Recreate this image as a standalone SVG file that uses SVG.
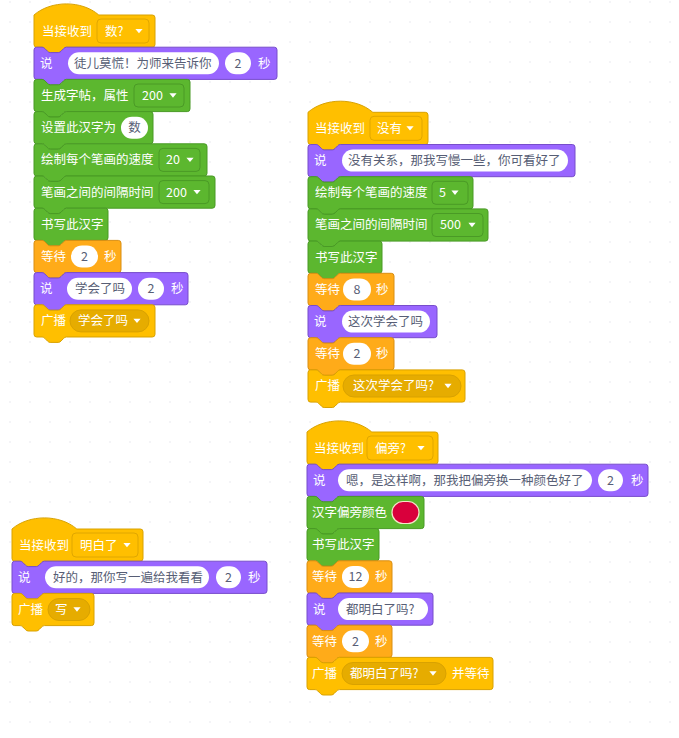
<svg xmlns="http://www.w3.org/2000/svg" xmlns:xlink="http://www.w3.org/1999/xlink" width="679" height="738" viewBox="0 0 679 738">
<defs>
<pattern id="dots" x="0" y="-8" width="20" height="20" patternUnits="userSpaceOnUse"><rect x="9.4" y="9.4" width="1.2" height="1.2" fill="#e0e0e8"/></pattern>
<path id="ar" d="M-3.6,-2.2h7.2l-3.6,4.4z" fill="#fff"/>
</defs>
<style>
.ev{fill:#FFBF00;stroke:#D9A200;stroke-width:1}
.lk{fill:#9966FF;stroke:#774DCB;stroke-width:1}
.ct{fill:#FFAB19;stroke:#D98E12;stroke-width:1}
.gr{fill:#5CB72F;stroke:#499A25;stroke-width:1}
.t{font-family:"Noto Sans CJK SC","Noto Sans",sans-serif;font-size:12.5px;fill:#fff}
.d{fill:#575E75}
.m{text-anchor:middle}
.pill{fill:#fff}
.hdd{fill:#FFBF00;stroke:#E0A700;stroke-width:1}
.bdd{fill:#E6AC00;stroke:#D9A200;stroke-width:1}
.gdd{fill:#5CB72F;stroke:#4A9A26;stroke-width:1}
</style>
<rect width="679" height="738" fill="#fff"/>
<rect width="679" height="738" fill="url(#dots)"/>

<g id="stack1">
<g id="s1-hat" transform="translate(34,15)">
<path class="ev" d="M0,0c16.9,-14.8 47.9,-14.8 64.8,0H118.3a2.7,2.7 0 0 1 2.7,2.7V29.5a2.7,2.7 0 0 1 -2.7,2.7H32.4c-1.35,0 -2,0.7 -2.7,1.35l-2.7,2.7c-0.7,0.7 -1.35,1.35 -2.7,1.35h-8.1c-1.35,0 -2,-0.7 -2.7,-1.35l-2.7,-2.7c-0.7,-0.7 -1.35,-1.35 -2.7,-1.35H2.7a2.7,2.7 0 0 1 -2.7,-2.7Z"/>
<text class="t" x="8" y="20.6">当接收到</text>
<rect class="hdd" x="63" y="4" width="52" height="24" rx="4"/>
<text class="t" x="71" y="20.6">数?</text>
<use href="#ar" x="105" y="16.1"/>
</g>
<g id="s1-b1" transform="translate(34,47.2)">
<path class="lk" d="M0,2.7A2.7,2.7 0 0 1 2.7,0H8.1c1.35,0 2,0.7 2.7,1.35l2.7,2.7c0.7,0.7 1.350,1.35 2.7,1.35h8.1c1.35,0 2,-0.7 2.7,-1.35l2.7,-2.7c0.7,-0.7 1.35,-1.35 2.7,-1.35H240.3a2.7,2.7 0 0 1 2.7,2.7V29.5a2.7,2.7 0 0 1 -2.7,2.7H32.4c-1.35,0 -2,0.7 -2.7,1.35l-2.7,2.7c-0.7,0.7 -1.35,1.35 -2.7,1.35h-8.1c-1.35,0 -2,-0.7 -2.7,-1.35l-2.7,-2.7c-0.7,-0.7 -1.35,-1.35 -2.7,-1.35H2.7a2.7,2.7 0 0 1 -2.7,-2.7Z"/>
<text class="t" x="6" y="20.6">说</text>
<rect class="pill" x="34" y="5.1" width="151" height="22" rx="11"/>
<text class="t d" x="40" y="20.6">徒儿莫慌！为师来告诉你</text>
<rect class="pill" x="191" y="5.1" width="26" height="22" rx="11"/>
<text class="t d m" x="204" y="20.6">2</text>
<text class="t" x="224" y="20.6">秒</text>
</g>
<g id="s1-b2" transform="translate(34,79.4)">
<path class="gr" d="M0,2.7A2.7,2.7 0 0 1 2.7,0H8.1c1.35,0 2,0.7 2.7,1.35l2.7,2.7c0.7,0.7 1.35,1.35 2.7,1.35h8.1c1.35,0 2,-0.7 2.7,-1.35l2.7,-2.7c0.7,-0.7 1.35,-1.35 2.7,-1.35H153.3a2.7,2.7 0 0 1 2.7,2.7V29.5a2.7,2.7 0 0 1 -2.7,2.7H32.4c-1.35,0 -2,0.7 -2.7,1.35l-2.7,2.7c-0.7,0.7 -1.35,1.35 -2.7,1.35h-8.1c-1.35,0 -2,-0.7 -2.7,-1.35l-2.7,-2.7c-0.7,-0.7 -1.35,-1.35 -2.7,-1.35H2.7a2.7,2.7 0 0 1 -2.7,-2.7Z"/>
<text class="t" x="7" y="20.6">生成字帖，属性</text>
<rect class="gdd" x="100" y="4.6" width="50" height="23" rx="4"/>
<text class="t" x="108" y="20.6">200</text>
<use href="#ar" x="139" y="16.1"/>
</g>
<g id="s1-b3" transform="translate(34,111.6)">
<path class="gr" d="M0,2.7A2.7,2.7 0 0 1 2.7,0H8.1c1.35,0 2,0.7 2.7,1.35l2.7,2.7c0.7,0.7 1.35,1.35 2.7,1.35h8.1c1.35,0 2,-0.7 2.7,-1.35l2.7,-2.7c0.7,-0.7 1.35,-1.35 2.7,-1.35H116.3a2.7,2.7 0 0 1 2.7,2.7V29.5a2.7,2.7 0 0 1 -2.7,2.7H32.4c-1.35,0 -2,0.7 -2.7,1.35l-2.7,2.7c-0.7,0.7 -1.35,1.35 -2.7,1.35h-8.1c-1.35,0 -2,-0.7 -2.7,-1.35l-2.7,-2.7c-0.7,-0.7 -1.35,-1.35 -2.7,-1.35H2.7a2.7,2.7 0 0 1 -2.7,-2.7Z"/>
<text class="t" x="7" y="20.6">设置此汉字为</text>
<rect class="pill" x="87" y="5.1" width="27" height="22" rx="11"/>
<text class="t d m" x="100.5" y="20.6">数</text>
</g>
<g id="s1-b4" transform="translate(34,143.8)">
<path class="gr" d="M0,2.7A2.7,2.7 0 0 1 2.7,0H8.1c1.35,0 2,0.7 2.7,1.35l2.7,2.7c0.7,0.7 1.35,1.35 2.7,1.35h8.1c1.35,0 2,-0.7 2.7,-1.35l2.7,-2.7c0.7,-0.7 1.35,-1.35 2.7,-1.35H170.3a2.7,2.7 0 0 1 2.7,2.7V29.5a2.7,2.7 0 0 1 -2.7,2.7H32.4c-1.35,0 -2,0.7 -2.7,1.35l-2.7,2.7c-0.7,0.7 -1.35,1.35 -2.7,1.35h-8.1c-1.35,0 -2,-0.7 -2.7,-1.35l-2.7,-2.7c-0.7,-0.7 -1.35,-1.35 -2.7,-1.35H2.7a2.7,2.7 0 0 1 -2.7,-2.7Z"/>
<text class="t" x="7" y="20.6">绘制每个笔画的速度</text>
<rect class="gdd" x="125" y="4.6" width="41" height="23" rx="4"/>
<text class="t" x="132" y="20.6">20</text>
<use href="#ar" x="156" y="16.1"/>
</g>
<g id="s1-b5" transform="translate(34,176)">
<path class="gr" d="M0,2.7A2.7,2.7 0 0 1 2.7,0H8.1c1.35,0 2,0.7 2.7,1.35l2.7,2.7c0.7,0.7 1.35,1.35 2.7,1.35h8.1c1.35,0 2,-0.7 2.7,-1.35l2.7,-2.7c0.7,-0.7 1.35,-1.35 2.7,-1.35H178.3a2.7,2.7 0 0 1 2.7,2.7V29.5a2.7,2.7 0 0 1 -2.7,2.7H32.4c-1.35,0 -2,0.7 -2.7,1.35l-2.7,2.7c-0.7,0.7 -1.35,1.35 -2.7,1.35h-8.1c-1.35,0 -2,-0.7 -2.7,-1.35l-2.7,-2.7c-0.7,-0.7 -1.35,-1.35 -2.7,-1.35H2.7a2.7,2.7 0 0 1 -2.7,-2.7Z"/>
<text class="t" x="7" y="20.6">笔画之间的间隔时间</text>
<rect class="gdd" x="125" y="4.6" width="50" height="23" rx="4"/>
<text class="t" x="132" y="20.6">200</text>
<use href="#ar" x="163" y="16.1"/>
</g>
<g id="s1-b6" transform="translate(34,208.2)">
<path class="gr" d="M0,2.7A2.7,2.7 0 0 1 2.7,0H8.1c1.35,0 2,0.7 2.7,1.35l2.7,2.7c0.7,0.7 1.35,1.35 2.7,1.35h8.1c1.35,0 2,-0.7 2.7,-1.35l2.7,-2.7c0.7,-0.7 1.35,-1.35 2.7,-1.35H71.3a2.7,2.7 0 0 1 2.7,2.7V29.5a2.7,2.7 0 0 1 -2.7,2.7H32.4c-1.35,0 -2,0.7 -2.7,1.35l-2.7,2.7c-0.7,0.7 -1.35,1.35 -2.7,1.35h-8.1c-1.35,0 -2,-0.7 -2.7,-1.35l-2.7,-2.7c-0.7,-0.7 -1.35,-1.35 -2.7,-1.35H2.7a2.7,2.7 0 0 1 -2.7,-2.7Z"/>
<text class="t" x="7" y="20.6">书写此汉字</text>
</g>
<g id="s1-b7" transform="translate(34,240.4)">
<path class="ct" d="M0,2.7A2.7,2.7 0 0 1 2.7,0H8.1c1.35,0 2,0.7 2.7,1.35l2.7,2.7c0.7,0.7 1.35,1.35 2.7,1.35h8.1c1.35,0 2,-0.7 2.7,-1.35l2.7,-2.7c0.7,-0.7 1.35,-1.35 2.7,-1.35H84.3a2.7,2.7 0 0 1 2.7,2.7V29.5a2.7,2.7 0 0 1 -2.7,2.7H32.4c-1.35,0 -2,0.7 -2.7,1.35l-2.7,2.7c-0.7,0.7 -1.35,1.35 -2.7,1.35h-8.1c-1.35,0 -2,-0.7 -2.7,-1.35l-2.7,-2.7c-0.7,-0.7 -1.35,-1.35 -2.7,-1.35H2.7a2.7,2.7 0 0 1 -2.7,-2.7Z"/>
<text class="t" x="7" y="20.6">等待</text>
<rect class="pill" x="37" y="5.1" width="27" height="22" rx="11"/>
<text class="t d m" x="50.5" y="20.6">2</text>
<text class="t" x="70" y="20.6">秒</text>
</g>
<g id="s1-b8" transform="translate(34,272.6)">
<path class="lk" d="M0,2.7A2.7,2.7 0 0 1 2.7,0H8.1c1.35,0 2,0.7 2.7,1.35l2.7,2.7c0.7,0.7 1.35,1.35 2.7,1.35h8.1c1.35,0 2,-0.7 2.7,-1.35l2.7,-2.7c0.7,-0.7 1.35,-1.35 2.7,-1.35H151.3a2.7,2.7 0 0 1 2.7,2.7V29.5a2.7,2.7 0 0 1 -2.7,2.7H32.4c-1.35,0 -2,0.7 -2.7,1.35l-2.7,2.7c-0.7,0.7 -1.35,1.35 -2.7,1.35h-8.1c-1.35,0 -2,-0.7 -2.7,-1.35l-2.7,-2.7c-0.7,-0.7 -1.35,-1.35 -2.7,-1.35H2.7a2.7,2.7 0 0 1 -2.7,-2.7Z"/>
<text class="t" x="6" y="20.6">说</text>
<rect class="pill" x="33" y="5.1" width="65" height="22" rx="11"/>
<text class="t d" x="41" y="20.6">学会了吗</text>
<rect class="pill" x="104" y="5.1" width="26" height="22" rx="11"/>
<text class="t d m" x="117" y="20.6">2</text>
<text class="t" x="137" y="20.6">秒</text>
</g>
<g id="s1-b9" transform="translate(34,304.8)">
<path class="ev" d="M0,2.7A2.7,2.7 0 0 1 2.7,0H8.1c1.35,0 2,0.7 2.7,1.35l2.7,2.7c0.7,0.7 1.35,1.35 2.7,1.35h8.1c1.35,0 2,-0.7 2.7,-1.35l2.7,-2.7c0.7,-0.7 1.35,-1.35 2.7,-1.35H118.3a2.7,2.7 0 0 1 2.7,2.7V29.5a2.7,2.7 0 0 1 -2.7,2.7H32.4c-1.35,0 -2,0.7 -2.7,1.35l-2.7,2.7c-0.7,0.7 -1.35,1.35 -2.7,1.35h-8.1c-1.35,0 -2,-0.7 -2.7,-1.35l-2.7,-2.7c-0.7,-0.7 -1.35,-1.35 -2.7,-1.35H2.7a2.7,2.7 0 0 1 -2.7,-2.7Z"/>
<text class="t" x="7" y="20.6">广播</text>
<rect class="bdd" x="36" y="5.1" width="79" height="22" rx="11"/>
<text class="t" x="44" y="20.6">学会了吗</text>
<use href="#ar" x="103" y="16.1"/>
</g>
</g>

<g id="stack2">
<g id="s2-hat" transform="translate(308,112.3)">
<path class="ev" d="M0,0c16.9,-14.8 47.9,-14.8 64.8,0H117.3a2.7,2.7 0 0 1 2.7,2.7V29.5a2.7,2.7 0 0 1 -2.7,2.7H32.4c-1.35,0 -2,0.7 -2.7,1.35l-2.7,2.7c-0.7,0.7 -1.35,1.35 -2.7,1.35h-8.1c-1.35,0 -2,-0.7 -2.7,-1.35l-2.7,-2.7c-0.7,-0.7 -1.35,-1.35 -2.7,-1.35H2.7a2.7,2.7 0 0 1 -2.7,-2.7Z"/>
<text class="t" x="7" y="20.6">当接收到</text>
<rect class="hdd" x="62" y="4" width="52" height="24" rx="4"/>
<text class="t" x="69" y="20.6">没有</text>
<use href="#ar" x="102" y="16.1"/>
</g>
<g id="s2-b1" transform="translate(308,144.5)">
<path class="lk" d="M0,2.7A2.7,2.7 0 0 1 2.7,0H8.1c1.35,0 2,0.7 2.7,1.35l2.7,2.7c0.7,0.7 1.35,1.35 2.7,1.35h8.1c1.35,0 2,-0.7 2.7,-1.35l2.7,-2.7c0.7,-0.7 1.35,-1.35 2.7,-1.35H264.3a2.7,2.7 0 0 1 2.7,2.7V29.5a2.7,2.7 0 0 1 -2.7,2.7H32.4c-1.35,0 -2,0.7 -2.7,1.35l-2.7,2.7c-0.7,0.7 -1.35,1.35 -2.7,1.35h-8.1c-1.35,0 -2,-0.7 -2.7,-1.35l-2.7,-2.7c-0.7,-0.7 -1.35,-1.35 -2.7,-1.35H2.7a2.7,2.7 0 0 1 -2.7,-2.7Z"/>
<text class="t" x="6" y="20.6">说</text>
<rect class="pill" x="34" y="5.1" width="226" height="22" rx="11"/>
<text class="t d" x="40" y="20.6">没有关系，那我写慢一些，你可看好了</text>
</g>
<g id="s2-b2" transform="translate(308,176.7)">
<path class="gr" d="M0,2.7A2.7,2.7 0 0 1 2.7,0H8.1c1.35,0 2,0.7 2.7,1.35l2.7,2.7c0.7,0.7 1.35,1.35 2.7,1.35h8.1c1.35,0 2,-0.7 2.7,-1.35l2.7,-2.7c0.7,-0.7 1.35,-1.35 2.7,-1.35H162.3a2.7,2.7 0 0 1 2.7,2.7V29.5a2.7,2.7 0 0 1 -2.7,2.7H32.4c-1.35,0 -2,0.7 -2.7,1.35l-2.7,2.7c-0.7,0.7 -1.35,1.35 -2.7,1.35h-8.1c-1.35,0 -2,-0.7 -2.7,-1.35l-2.7,-2.7c-0.7,-0.7 -1.35,-1.35 -2.7,-1.35H2.7a2.7,2.7 0 0 1 -2.7,-2.7Z"/>
<text class="t" x="7" y="20.6">绘制每个笔画的速度</text>
<rect class="gdd" x="124" y="4.6" width="36" height="23" rx="4"/>
<text class="t" x="131" y="20.6">5</text>
<use href="#ar" x="147" y="16.1"/>
</g>
<g id="s2-b3" transform="translate(308,208.9)">
<path class="gr" d="M0,2.7A2.7,2.7 0 0 1 2.7,0H8.1c1.35,0 2,0.7 2.7,1.35l2.7,2.7c0.7,0.7 1.35,1.35 2.7,1.35h8.1c1.35,0 2,-0.7 2.7,-1.35l2.7,-2.7c0.7,-0.7 1.35,-1.35 2.7,-1.35H177.3a2.7,2.7 0 0 1 2.7,2.7V29.5a2.7,2.7 0 0 1 -2.7,2.7H32.4c-1.35,0 -2,0.7 -2.7,1.35l-2.7,2.7c-0.7,0.7 -1.35,1.35 -2.7,1.35h-8.1c-1.35,0 -2,-0.7 -2.7,-1.35l-2.7,-2.7c-0.7,-0.7 -1.35,-1.35 -2.7,-1.35H2.7a2.7,2.7 0 0 1 -2.7,-2.7Z"/>
<text class="t" x="7" y="20.6">笔画之间的间隔时间</text>
<rect class="gdd" x="124" y="4.6" width="51" height="23" rx="4"/>
<text class="t" x="132" y="20.6">500</text>
<use href="#ar" x="164" y="16.1"/>
</g>
<g id="s2-b4" transform="translate(308,241.1)">
<path class="gr" d="M0,2.7A2.7,2.7 0 0 1 2.7,0H8.1c1.35,0 2,0.7 2.7,1.35l2.7,2.7c0.7,0.7 1.35,1.35 2.7,1.35h8.1c1.35,0 2,-0.7 2.7,-1.35l2.7,-2.7c0.7,-0.7 1.35,-1.35 2.7,-1.35H71.3a2.7,2.7 0 0 1 2.7,2.7V29.5a2.7,2.7 0 0 1 -2.7,2.7H32.4c-1.35,0 -2,0.7 -2.7,1.35l-2.7,2.7c-0.7,0.7 -1.35,1.35 -2.7,1.35h-8.1c-1.35,0 -2,-0.7 -2.7,-1.35l-2.7,-2.7c-0.7,-0.7 -1.35,-1.35 -2.7,-1.35H2.7a2.7,2.7 0 0 1 -2.7,-2.7Z"/>
<text class="t" x="7" y="20.6">书写此汉字</text>
</g>
<g id="s2-b5" transform="translate(308,273.3)">
<path class="ct" d="M0,2.7A2.7,2.7 0 0 1 2.7,0H8.1c1.35,0 2,0.7 2.7,1.35l2.7,2.7c0.7,0.7 1.35,1.35 2.7,1.35h8.1c1.35,0 2,-0.7 2.7,-1.35l2.7,-2.7c0.7,-0.7 1.35,-1.35 2.7,-1.35H83.3a2.7,2.7 0 0 1 2.7,2.7V29.5a2.7,2.7 0 0 1 -2.7,2.7H32.4c-1.35,0 -2,0.7 -2.7,1.35l-2.7,2.7c-0.7,0.7 -1.35,1.35 -2.7,1.35h-8.1c-1.35,0 -2,-0.7 -2.7,-1.35l-2.7,-2.7c-0.7,-0.7 -1.35,-1.35 -2.7,-1.35H2.7a2.7,2.7 0 0 1 -2.7,-2.7Z"/>
<text class="t" x="7" y="20.6">等待</text>
<rect class="pill" x="35" y="5.1" width="28" height="22" rx="11"/>
<text class="t d m" x="49" y="20.6">8</text>
<text class="t" x="68" y="20.6">秒</text>
</g>
<g id="s2-b6" transform="translate(308,305.5)">
<path class="lk" d="M0,2.7A2.7,2.7 0 0 1 2.7,0H8.1c1.35,0 2,0.7 2.7,1.35l2.7,2.7c0.7,0.7 1.35,1.35 2.7,1.35h8.1c1.35,0 2,-0.7 2.7,-1.35l2.7,-2.7c0.7,-0.7 1.35,-1.35 2.7,-1.35H126.3a2.7,2.7 0 0 1 2.7,2.7V29.5a2.7,2.7 0 0 1 -2.7,2.7H32.4c-1.35,0 -2,0.7 -2.7,1.35l-2.7,2.7c-0.7,0.7 -1.35,1.35 -2.7,1.35h-8.1c-1.35,0 -2,-0.7 -2.7,-1.35l-2.7,-2.7c-0.7,-0.7 -1.35,-1.35 -2.7,-1.35H2.7a2.7,2.7 0 0 1 -2.7,-2.7Z"/>
<text class="t" x="6" y="20.6">说</text>
<rect class="pill" x="34" y="5.1" width="88" height="22" rx="11"/>
<text class="t d" x="40" y="20.6">这次学会了吗</text>
</g>
<g id="s2-b7" transform="translate(308,337.7)">
<path class="ct" d="M0,2.7A2.7,2.7 0 0 1 2.7,0H8.1c1.35,0 2,0.7 2.7,1.35l2.7,2.7c0.7,0.7 1.35,1.35 2.7,1.35h8.1c1.35,0 2,-0.7 2.7,-1.35l2.7,-2.7c0.7,-0.7 1.35,-1.35 2.7,-1.35H83.3a2.7,2.7 0 0 1 2.7,2.7V29.5a2.7,2.7 0 0 1 -2.7,2.7H32.4c-1.35,0 -2,0.7 -2.7,1.35l-2.7,2.7c-0.7,0.7 -1.35,1.35 -2.7,1.35h-8.1c-1.35,0 -2,-0.7 -2.7,-1.35l-2.7,-2.7c-0.7,-0.7 -1.35,-1.35 -2.7,-1.35H2.7a2.7,2.7 0 0 1 -2.7,-2.7Z"/>
<text class="t" x="7" y="20.6">等待</text>
<rect class="pill" x="35" y="5.1" width="28" height="22" rx="11"/>
<text class="t d m" x="49" y="20.6">2</text>
<text class="t" x="68" y="20.6">秒</text>
</g>
<g id="s2-b8" transform="translate(308,369.9)">
<path class="ev" d="M0,2.7A2.7,2.7 0 0 1 2.7,0H8.1c1.35,0 2,0.7 2.7,1.35l2.7,2.7c0.7,0.7 1.35,1.35 2.7,1.35h8.1c1.35,0 2,-0.7 2.7,-1.35l2.7,-2.7c0.7,-0.7 1.35,-1.35 2.7,-1.35H154.3a2.7,2.7 0 0 1 2.7,2.7V29.5a2.7,2.7 0 0 1 -2.7,2.7H32.4c-1.35,0 -2,0.7 -2.7,1.35l-2.7,2.7c-0.7,0.7 -1.35,1.35 -2.7,1.35h-8.1c-1.35,0 -2,-0.7 -2.7,-1.35l-2.7,-2.7c-0.7,-0.7 -1.35,-1.35 -2.7,-1.35H2.7a2.7,2.7 0 0 1 -2.7,-2.7Z"/>
<text class="t" x="7" y="20.6">广播</text>
<rect class="bdd" x="35" y="5.1" width="118" height="22" rx="11"/>
<text class="t" x="45" y="20.6">这次学会了吗?</text>
<use href="#ar" x="140" y="16.1"/>
</g>
</g>

<g id="stack3">
<g id="s3-hat" transform="translate(307,432)">
<path class="ev" d="M0,0c16.9,-14.8 47.9,-14.8 64.8,0H128.3a2.7,2.7 0 0 1 2.7,2.7V29.5a2.7,2.7 0 0 1 -2.7,2.7H32.4c-1.35,0 -2,0.7 -2.7,1.35l-2.7,2.7c-0.7,0.7 -1.35,1.35 -2.7,1.35h-8.1c-1.35,0 -2,-0.7 -2.7,-1.35l-2.7,-2.7c-0.7,-0.7 -1.35,-1.35 -2.7,-1.35H2.7a2.7,2.7 0 0 1 -2.7,-2.7Z"/>
<text class="t" x="7" y="20.6">当接收到</text>
<rect class="hdd" x="60" y="4" width="66" height="24" rx="4"/>
<text class="t" x="68" y="20.6">偏旁?</text>
<use href="#ar" x="114" y="16.1"/>
</g>
<g id="s3-b1" transform="translate(307,464.2)">
<path class="lk" d="M0,2.7A2.7,2.7 0 0 1 2.7,0H8.1c1.35,0 2,0.7 2.7,1.35l2.7,2.7c0.7,0.7 1.35,1.35 2.7,1.35h8.1c1.35,0 2,-0.7 2.7,-1.35l2.7,-2.7c0.7,-0.7 1.35,-1.35 2.7,-1.35H338.3a2.7,2.7 0 0 1 2.7,2.7V29.5a2.7,2.7 0 0 1 -2.7,2.7H32.4c-1.35,0 -2,0.7 -2.7,1.35l-2.7,2.7c-0.7,0.7 -1.35,1.35 -2.7,1.35h-8.1c-1.35,0 -2,-0.7 -2.7,-1.35l-2.7,-2.7c-0.7,-0.7 -1.35,-1.35 -2.7,-1.35H2.7a2.7,2.7 0 0 1 -2.7,-2.7Z"/>
<text class="t" x="6" y="20.6">说</text>
<rect class="pill" x="31" y="5.1" width="254" height="22" rx="11"/>
<text class="t d" x="39" y="20.6">嗯，是这样啊，那我把偏旁换一种颜色好了</text>
<rect class="pill" x="291" y="5.1" width="25" height="22" rx="11"/>
<text class="t d m" x="303.5" y="20.6">2</text>
<text class="t" x="324" y="20.6">秒</text>
</g>
<g id="s3-b2" transform="translate(307,496.4)">
<path class="gr" d="M0,2.7A2.7,2.7 0 0 1 2.7,0H8.1c1.35,0 2,0.7 2.7,1.35l2.7,2.7c0.7,0.7 1.35,1.35 2.7,1.35h8.1c1.35,0 2,-0.7 2.7,-1.35l2.7,-2.7c0.7,-0.7 1.35,-1.35 2.7,-1.35H114.3a2.7,2.7 0 0 1 2.7,2.7V29.5a2.7,2.7 0 0 1 -2.7,2.7H32.4c-1.35,0 -2,0.7 -2.7,1.35l-2.7,2.7c-0.7,0.7 -1.35,1.35 -2.7,1.35h-8.1c-1.35,0 -2,-0.7 -2.7,-1.35l-2.7,-2.7c-0.7,-0.7 -1.35,-1.35 -2.7,-1.35H2.7a2.7,2.7 0 0 1 -2.7,-2.7Z"/>
<text class="t" x="5" y="20.6">汉字偏旁颜色</text>
<rect x="85" y="5.1" width="27" height="22" rx="11" fill="#D9003C" stroke="#F3E6C8" stroke-width="1.2"/>
</g>
<g id="s3-b3" transform="translate(307,528.6)">
<path class="gr" d="M0,2.7A2.7,2.7 0 0 1 2.7,0H8.1c1.35,0 2,0.7 2.7,1.35l2.7,2.7c0.7,0.7 1.35,1.35 2.7,1.35h8.1c1.35,0 2,-0.7 2.7,-1.35l2.7,-2.7c0.7,-0.7 1.35,-1.35 2.7,-1.35H69.3a2.7,2.7 0 0 1 2.7,2.7V29.5a2.7,2.7 0 0 1 -2.7,2.7H32.4c-1.35,0 -2,0.7 -2.7,1.35l-2.7,2.7c-0.7,0.7 -1.35,1.35 -2.7,1.35h-8.1c-1.35,0 -2,-0.7 -2.7,-1.35l-2.7,-2.7c-0.7,-0.7 -1.35,-1.35 -2.7,-1.35H2.7a2.7,2.7 0 0 1 -2.7,-2.7Z"/>
<text class="t" x="5" y="20.6">书写此汉字</text>
</g>
<g id="s3-b4" transform="translate(307,560.8)">
<path class="ct" d="M0,2.7A2.7,2.7 0 0 1 2.7,0H8.1c1.35,0 2,0.7 2.7,1.35l2.7,2.7c0.7,0.7 1.35,1.35 2.7,1.35h8.1c1.35,0 2,-0.7 2.7,-1.35l2.7,-2.7c0.7,-0.7 1.35,-1.35 2.7,-1.35H82.3a2.7,2.7 0 0 1 2.7,2.7V29.5a2.7,2.7 0 0 1 -2.7,2.7H32.4c-1.35,0 -2,0.7 -2.7,1.35l-2.7,2.7c-0.7,0.7 -1.35,1.35 -2.7,1.35h-8.1c-1.35,0 -2,-0.7 -2.7,-1.35l-2.7,-2.7c-0.7,-0.7 -1.35,-1.35 -2.7,-1.35H2.7a2.7,2.7 0 0 1 -2.7,-2.7Z"/>
<text class="t" x="5" y="20.6">等待</text>
<rect class="pill" x="35" y="5.1" width="27" height="22" rx="11"/>
<text class="t d m" x="48.5" y="20.6">12</text>
<text class="t" x="68" y="20.6">秒</text>
</g>
<g id="s3-b5" transform="translate(307,593)">
<path class="lk" d="M0,2.7A2.7,2.7 0 0 1 2.7,0H8.1c1.35,0 2,0.7 2.7,1.35l2.7,2.7c0.7,0.7 1.35,1.35 2.7,1.35h8.1c1.35,0 2,-0.7 2.7,-1.35l2.7,-2.7c0.7,-0.7 1.35,-1.35 2.7,-1.35H123.3a2.7,2.7 0 0 1 2.7,2.7V29.5a2.7,2.7 0 0 1 -2.7,2.7H32.4c-1.35,0 -2,0.7 -2.7,1.35l-2.7,2.7c-0.7,0.7 -1.35,1.35 -2.7,1.35h-8.1c-1.35,0 -2,-0.7 -2.7,-1.35l-2.7,-2.7c-0.7,-0.7 -1.35,-1.35 -2.7,-1.35H2.7a2.7,2.7 0 0 1 -2.7,-2.7Z"/>
<text class="t" x="6" y="20.6">说</text>
<rect class="pill" x="31" y="5.1" width="90" height="22" rx="11"/>
<text class="t d" x="39" y="20.6">都明白了吗?</text>
</g>
<g id="s3-b6" transform="translate(307,625.2)">
<path class="ct" d="M0,2.7A2.7,2.7 0 0 1 2.7,0H8.1c1.35,0 2,0.7 2.7,1.35l2.7,2.7c0.7,0.7 1.35,1.35 2.7,1.35h8.1c1.35,0 2,-0.7 2.7,-1.35l2.7,-2.7c0.7,-0.7 1.35,-1.35 2.7,-1.35H82.3a2.7,2.7 0 0 1 2.7,2.7V29.5a2.7,2.7 0 0 1 -2.7,2.7H32.4c-1.35,0 -2,0.7 -2.7,1.35l-2.7,2.7c-0.7,0.7 -1.35,1.35 -2.7,1.35h-8.1c-1.35,0 -2,-0.7 -2.7,-1.35l-2.7,-2.7c-0.7,-0.7 -1.35,-1.35 -2.7,-1.35H2.7a2.7,2.7 0 0 1 -2.7,-2.7Z"/>
<text class="t" x="5" y="20.6">等待</text>
<rect class="pill" x="35" y="5.1" width="27" height="22" rx="11"/>
<text class="t d m" x="48.5" y="20.6">2</text>
<text class="t" x="68" y="20.6">秒</text>
</g>
<g id="s3-b7" transform="translate(307,657.4)">
<path class="ev" d="M0,2.7A2.7,2.7 0 0 1 2.7,0H8.1c1.35,0 2,0.7 2.7,1.35l2.7,2.7c0.7,0.7 1.35,1.35 2.7,1.35h8.1c1.35,0 2,-0.7 2.7,-1.35l2.7,-2.7c0.7,-0.7 1.35,-1.35 2.7,-1.35H183.3a2.7,2.7 0 0 1 2.7,2.7V29.5a2.7,2.7 0 0 1 -2.7,2.7H32.4c-1.35,0 -2,0.7 -2.7,1.35l-2.7,2.7c-0.7,0.7 -1.35,1.35 -2.7,1.35h-8.1c-1.35,0 -2,-0.7 -2.7,-1.35l-2.7,-2.7c-0.7,-0.7 -1.35,-1.35 -2.7,-1.35H2.7a2.7,2.7 0 0 1 -2.7,-2.7Z"/>
<text class="t" x="5" y="20.6">广播</text>
<rect class="bdd" x="35" y="5.1" width="104" height="22" rx="11"/>
<text class="t" x="43" y="20.6">都明白了吗?</text>
<use href="#ar" x="126" y="16.1"/>
<text class="t" x="145" y="20.6">并等待</text>
</g>
</g>

<g id="stack4">
<g id="s4-hat" transform="translate(12,529)">
<path class="ev" d="M0,0c16.9,-14.8 47.9,-14.8 64.8,0H128.3a2.7,2.7 0 0 1 2.7,2.7V29.5a2.7,2.7 0 0 1 -2.7,2.7H32.4c-1.35,0 -2,0.7 -2.7,1.35l-2.7,2.7c-0.7,0.7 -1.35,1.35 -2.7,1.35h-8.1c-1.35,0 -2,-0.7 -2.7,-1.35l-2.7,-2.7c-0.7,-0.7 -1.35,-1.35 -2.7,-1.35H2.7a2.7,2.7 0 0 1 -2.7,-2.7Z"/>
<text class="t" x="7" y="20.6">当接收到</text>
<rect class="hdd" x="60" y="4" width="66" height="24" rx="4"/>
<text class="t" x="68" y="20.6">明白了</text>
<use href="#ar" x="115" y="16.1"/>
</g>
<g id="s4-b1" transform="translate(12,561.2)">
<path class="lk" d="M0,2.7A2.7,2.7 0 0 1 2.7,0H8.1c1.35,0 2,0.7 2.7,1.35l2.7,2.7c0.7,0.7 1.35,1.35 2.7,1.35h8.1c1.35,0 2,-0.7 2.7,-1.35l2.7,-2.7c0.7,-0.7 1.35,-1.35 2.7,-1.35H252.3a2.7,2.7 0 0 1 2.7,2.7V29.5a2.7,2.7 0 0 1 -2.7,2.7H32.4c-1.35,0 -2,0.7 -2.7,1.35l-2.7,2.7c-0.7,0.7 -1.35,1.35 -2.7,1.35h-8.1c-1.35,0 -2,-0.7 -2.7,-1.35l-2.7,-2.7c-0.7,-0.7 -1.35,-1.35 -2.7,-1.35H2.7a2.7,2.7 0 0 1 -2.7,-2.7Z"/>
<text class="t" x="6" y="20.6">说</text>
<rect class="pill" x="33" y="5.1" width="164" height="22" rx="11"/>
<text class="t d" x="41" y="20.6">好的，那你写一遍给我看看</text>
<rect class="pill" x="204" y="5.1" width="25" height="22" rx="11"/>
<text class="t d m" x="216.5" y="20.6">2</text>
<text class="t" x="236" y="20.6">秒</text>
</g>
<g id="s4-b2" transform="translate(12,593.4)">
<path class="ev" d="M0,2.7A2.7,2.7 0 0 1 2.7,0H8.1c1.35,0 2,0.7 2.7,1.35l2.7,2.7c0.7,0.7 1.35,1.35 2.7,1.35h8.1c1.35,0 2,-0.7 2.7,-1.35l2.7,-2.7c0.7,-0.7 1.35,-1.35 2.7,-1.35H79.3a2.7,2.7 0 0 1 2.7,2.7V29.5a2.7,2.7 0 0 1 -2.7,2.7H32.4c-1.35,0 -2,0.7 -2.7,1.35l-2.7,2.7c-0.7,0.7 -1.35,1.35 -2.7,1.35h-8.1c-1.35,0 -2,-0.7 -2.7,-1.35l-2.7,-2.7c-0.7,-0.7 -1.35,-1.35 -2.7,-1.35H2.7a2.7,2.7 0 0 1 -2.7,-2.7Z"/>
<text class="t" x="6" y="20.6">广播</text>
<rect class="bdd" x="36" y="5.1" width="42" height="22" rx="11"/>
<text class="t" x="43" y="20.6">写</text>
<use href="#ar" x="65" y="16.1"/>
</g>
</g>

<g id="connectors"/>
</svg>
